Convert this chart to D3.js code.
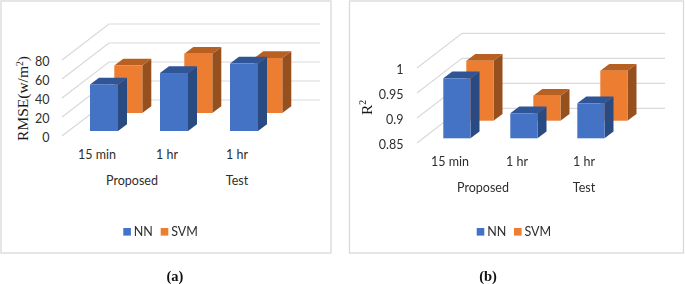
<!DOCTYPE html>
<html><head><meta charset="utf-8">
<script src="https://cdnjs.cloudflare.com/ajax/libs/d3/7.8.5/d3.min.js"></script>
<style>
html,body{margin:0;padding:0;background:#fff;overflow:hidden}
svg{display:block;filter:blur(0.35px)}
text{font-family:Lato,"Open Sans",sans-serif;fill:#2e2e2e}
</style></head><body>
<svg id="c" width="685" height="284"></svg>
<script>
const categories = ["15 min","1 hr (Proposed)","1 hr (Test)"];
const categoryLabels = ["15 min","1 hr","1 hr"];
const seriesNames = ["NN","SVM"];
const rmseNN = [49,61,71];
const rmseSVM = [50,62.5,58];
const rmseTicks = [0,20,40,60,80];
const r2NN = [0.97,0.90,0.92];
const r2SVM = [0.97,0.90,0.95];
const r2Ticks = [0.85,0.9,0.95,1];
const groupLabels = ["Proposed","Test"];

const svg = d3.select("#c");
const faces = {
  NN:{front:"#4472c4",top:"#2f5597",side:"#2a4a82"},
  SVM:{front:"#ed7d31",top:"#b85f22",side:"#96501e"}
};
const GRID="#d9d9d9";

function panel(o){
  const g = svg.append("g");
  g.append("rect").attr("x",o.frame[0]).attr("y",o.frame[1]).attr("width",o.frame[2]).attr("height",o.frame[3])
    .attr("fill","#fff").attr("stroke","#d9d9d9").attr("stroke-width",1.3);
  const y = d3.scaleLinear().domain(o.domain).range(o.yRange);
  const x = d3.scaleBand().domain(categories).range(o.xRange).paddingInner(o.pad).paddingOuter(o.pad/2);
  g.append("g").selectAll("path").data(o.ticks).join("path")
    .attr("d",v=>d3.line()([[o.wallX,y(v)],[o.wallX+o.wallDx,y(v)-o.wallDy],[o.wallEnd,y(v)-o.wallDy]]))
    .attr("fill","none").attr("stroke",GRID).attr("stroke-width",1.2);
  const ax = d3.axisLeft(y).tickValues(o.ticks).tickSize(0).tickPadding(0).tickFormat(d=>String(d));
  const axG = g.append("g").attr("transform",`translate(${o.tickX},1.2)`).call(ax);
  axG.select(".domain").remove();
  axG.selectAll("text").style("font-size","12.5px").style("font-family","Lato,'Open Sans',sans-serif");
  const bw = x.bandwidth();
  [["SVM",o.svm,o.svmDx,o.svmDy],["NN",o.nn,0,o.nnDy]].forEach(([name,vals,dx,dy])=>{
    const c = faces[name];
    const row = g.append("g").selectAll("g").data(vals).join("g");
    const X = (d,i)=>x(categories[i])+dx;
    const base = y(o.domain[0])+dy;
    const T = d=>y(d)+dy;
    row.append("path").attr("fill",c.side).attr("d",(d,i)=>{
      const a=X(d,i)+bw;
      return d3.line()([[a,T(d)],[a+o.bdx,T(d)-o.bdy],[a+o.bdx,base-o.bdy],[a,base]])+"Z";});
    row.append("path").attr("fill",c.top).attr("d",(d,i)=>{
      const a=X(d,i);
      return d3.line()([[a,T(d)],[a+o.bdx,T(d)-o.bdy],[a+bw+o.bdx,T(d)-o.bdy],[a+bw,T(d)]])+"Z";});
    row.append("rect").attr("fill",c.front).attr("x",X).attr("y",T).attr("width",bw).attr("height",d=>base-T(d));
  });
  g.append("g").selectAll("text").data(categoryLabels).join("text")
    .attr("x",(d,i)=>o.catX[i]).attr("y",o.catY).attr("text-anchor","middle").attr("font-size",12.5).text(d=>d);
  g.append("g").selectAll("text").data(groupLabels).join("text")
    .attr("x",(d,i)=>o.groupX[i]).attr("y",o.groupY).attr("text-anchor","middle").attr("font-size",12.5).text(d=>d);
  const t = g.append("text").attr("transform",`translate(${o.titleX},${o.titleY}) rotate(-90)`)
    .attr("text-anchor","middle").attr("font-size",o.titleSize).style("font-family","'Liberation Serif',serif").style("fill","#1a1a1a");
  t.append("tspan").text(o.title[0]);
  t.append("tspan").attr("font-size",o.titleSize*0.62).attr("dy",-5.5).text(o.title[1]);
  if(o.title[2]) t.append("tspan").attr("dy",5.5).text(o.title[2]);
  const lg = g.append("g").selectAll("g").data(seriesNames).join("g");
  lg.append("rect").attr("x",(d,i)=>o.legX[i]).attr("y",o.legY).attr("width",7.6).attr("height",7.6).attr("fill",d=>faces[d].front);
  lg.append("text").attr("x",(d,i)=>o.legX[i]+10.5).attr("y",o.legY+8.3).attr("font-size",12.5).text(d=>d);
  g.append("text").attr("x",o.capX).attr("y",281).attr("text-anchor","middle").attr("font-size",14.5)
    .attr("font-weight","bold").style("font-family","'Liberation Serif',serif").style("fill","#111").text(o.caption);
}

panel({frame:[1,1,330,252],domain:[0,80],yRange:[136,60],xRange:[69,279],pad:0.6,ticks:rmseTicks,
  nn:rmseNN,svm:rmseSVM,nnDy:-5,svmDx:24.3,svmDy:-23,bdx:9,bdy:6.7,
  wallX:62,wallDx:47,wallDy:36,wallEnd:320,tickX:49.5,
  catX:[97,167,237],catY:159,groupX:[132,237],groupY:185,
  title:["RMSE(w/m","2",")"],titleSize:15.5,titleX:28,titleY:98.5,
  legX:[123.3,160.7],legY:228,capX:175,caption:"(a)"});

panel({frame:[349.5,1,334,252],domain:[0.85,1],yRange:[143,68],xRange:[423.4,624.4],pad:0.594,ticks:r2Ticks,
  nn:r2NN,svm:r2SVM,nnDy:-4.7,svmDx:23,svmDy:-22.3,bdx:9,bdy:6.7,
  wallX:417,wallDx:45,wallDy:34.7,wallEnd:665,tickX:403.5,
  catX:[450,517,584],catY:166,groupX:[483,584],groupY:192,
  title:["R","2",""],titleSize:15.5,titleX:371.5,titleY:107.5,
  legX:[476.7,514],legY:228,capX:488,caption:"(b)"});
</script>
</body></html>
